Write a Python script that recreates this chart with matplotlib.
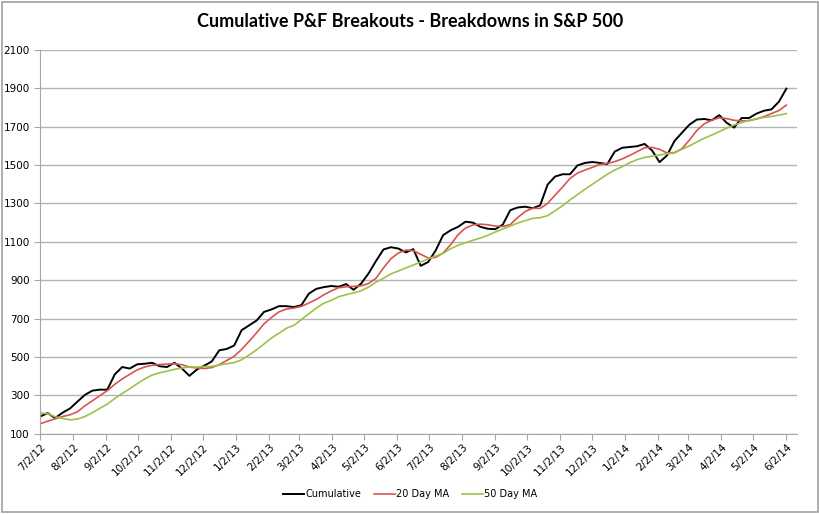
import pandas as pd
import matplotlib.pyplot as plt
from matplotlib.patches import Rectangle

# Weekly readings, starting 7/2/12
start_date = "2012-07-02"

cumulative = [
    190, 208, 182, 210, 232, 268, 303, 325, 330, 330,
    410, 448, 440, 462, 465, 470, 452, 448, 470, 440,
    402, 435, 455, 477, 535, 542, 560, 640, 665, 690,
    735, 748, 765, 765, 760, 770, 830, 855, 864, 870,
    866, 880, 850, 882, 935, 1000, 1060, 1072, 1065, 1045,
    1062, 975, 995, 1055, 1135, 1160, 1178, 1205, 1200, 1178,
    1168, 1166, 1190, 1265, 1279, 1283, 1275, 1290, 1398, 1440,
    1452, 1452, 1498, 1511, 1516, 1511, 1505, 1570, 1590, 1594,
    1598, 1610, 1576, 1515, 1550, 1625, 1668, 1710, 1737, 1740,
    1733, 1760, 1720, 1695, 1745, 1745, 1768, 1783, 1790, 1830,
    1898,
]

ma20 = [
    152, 166, 178, 190, 199, 215, 246, 272, 299, 325,
    358, 386, 410, 433, 448, 457, 461, 463, 465, 460,
    448, 443, 440, 445, 460, 482, 504, 540, 582, 626,
    673, 706, 735, 750, 755, 764, 781, 800, 824, 844,
    861, 866, 868, 871, 883, 910, 964, 1012, 1042, 1057,
    1054, 1035, 1016, 1019, 1042, 1085, 1137, 1172, 1188, 1192,
    1189, 1182, 1180, 1190, 1227, 1258, 1275, 1274, 1300, 1343,
    1385, 1430, 1458, 1474, 1488, 1503, 1508, 1518, 1532, 1550,
    1570, 1590, 1592, 1582, 1563, 1565, 1585, 1630, 1680, 1715,
    1734, 1746, 1742, 1733, 1730, 1731, 1740, 1752, 1768, 1784,
    1812,
]

ma50 = [
    208, 205, 189, 180, 173, 177, 190, 210, 233, 255,
    284, 310, 335, 361, 386, 406, 418, 426, 436, 443,
    448, 448, 450, 451, 458, 465, 471, 486, 510, 538,
    568, 599, 624, 650, 665, 695, 725, 755, 780, 795,
    814, 825, 834, 845, 864, 890, 910, 933, 948, 964,
    979, 995, 1011, 1026, 1040, 1064, 1082, 1096, 1108, 1120,
    1134, 1151, 1167, 1182, 1198, 1210, 1222, 1226, 1236, 1262,
    1288, 1318, 1346, 1374, 1400, 1426, 1452, 1474, 1492, 1512,
    1528, 1540, 1546, 1552, 1559, 1563, 1582, 1600, 1620, 1640,
    1656, 1674, 1692, 1709, 1721, 1733, 1741, 1748, 1753, 1760,
    1768,
]

dates = pd.date_range(start_date, periods=len(cumulative), freq="7D")
tick_dates = pd.date_range("2012-07-01", "2014-06-01", freq="MS") + pd.Timedelta(days=1)
tick_labels = [f"{d.month}/{d.day}/{d.year % 100}" for d in tick_dates]

fig = plt.figure(figsize=(8.2, 5.14), dpi=100)
ax = fig.add_axes([0.049, 0.156, 0.923, 0.747])

ax.plot(dates, cumulative, color="black", lw=1.4, label="Cumulative")
ax.plot(dates, ma20, color="#d9544f", lw=1.2, label="20 Day MA")
ax.plot(dates, ma50, color="#9bc24a", lw=1.2, label="50 Day MA")

ax.set_ylim(100, 2100)
ax.set_yticks(range(100, 2101, 200))
ax.set_xlim(pd.Timestamp("2012-07-02"), pd.Timestamp("2014-06-12"))
ax.set_xticks(tick_dates)
ax.set_xticklabels(tick_labels, rotation=45, ha="right", rotation_mode="anchor")

ax.grid(axis="y", color="#b3b3b3", lw=1)
ax.set_axisbelow(True)
for side in ["top", "right"]:
    ax.spines[side].set_visible(False)
for side in ["left", "bottom"]:
    ax.spines[side].set_color("#a6a6a6")
ax.tick_params(axis="both", labelsize=7.5, color="#a6a6a6", length=4)
ax.tick_params(axis="x", pad=2)

fig.suptitle("Cumulative P&F Breakouts - Breakdowns in S&P 500",
             x=0.5, y=0.975, fontsize=13, fontweight="bold", family="Lato")

fig.legend(loc="center", bbox_to_anchor=(0.5, 0.038), ncol=3, frameon=False,
           fontsize=7, handlelength=2.2, columnspacing=1.3, handletextpad=0.1)

fig.patches.append(Rectangle((0.002, 0.003), 0.995, 0.993, transform=fig.transFigure,
                             fill=False, edgecolor="#a0a0a0", lw=1.2))

fig.savefig("out.png", dpi=100)
